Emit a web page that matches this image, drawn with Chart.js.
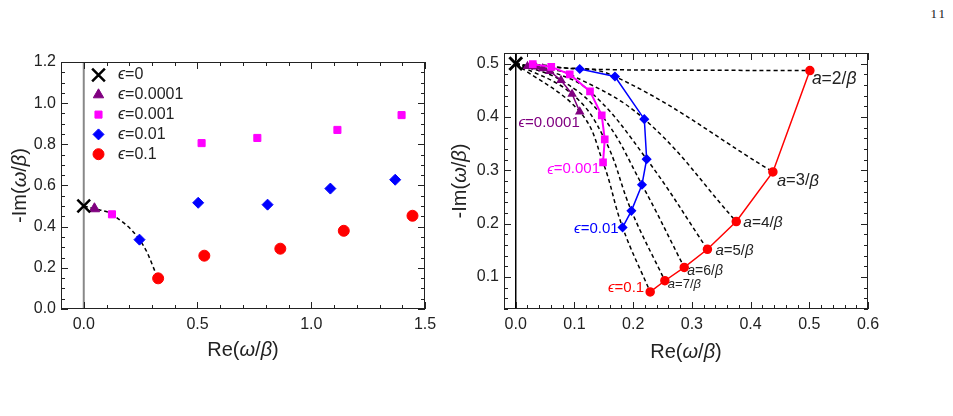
<!DOCTYPE html>
<html>
<head>
<meta charset="utf-8">
<script src="https://cdn.jsdelivr.net/npm/chart.js@4.4.0/dist/chart.umd.min.js"></script>
<style>
  body { margin: 0; background: #fff; width: 953px; height: 416px; overflow: hidden; position: relative; }
  #leftBox { position: absolute; left: 0; top: 0; width: 470px; height: 416px; }
  #rightBox { position: absolute; left: 440px; top: 0; width: 513px; height: 416px; }
  #page { position: absolute; right: 6px; top: 6px; font-family: "Liberation Serif", serif; font-size: 13px; letter-spacing: 2px; color: #222; }
</style>
</head>
<body>
<div id="page">11</div>
<div id="leftBox"><canvas id="leftChart" width="470" height="416"></canvas></div>
<div id="rightBox"><canvas id="rightChart" width="513" height="416"></canvas></div>
<script>
const FONT = '"Liberation Sans", "DejaVu Sans", Arial, sans-serif';

// Left panel: poles for a = 2/beta ... (eps sweep)
const leftCrossX = [0];
const leftCrossY = [0.5];
const leftTriX = [0.047];
const leftTriY = [0.487];
const leftSqX = [0.124, 0.518, 0.763, 1.115, 1.397];
const leftSqY = [0.46, 0.806, 0.831, 0.87, 0.942];
const leftDiaX = [0.245, 0.503, 0.808, 1.084, 1.369];
const leftDiaY = [0.337, 0.516, 0.507, 0.585, 0.628];
const leftCircX = [0.327, 0.530, 0.864, 1.143, 1.445];
const leftCircY = [0.149, 0.259, 0.293, 0.380, 0.453];
const leftXTicks = [0, 0.5, 1.0, 1.5];
const leftYTicks = [0, 0.2, 0.4, 0.6, 0.8, 1.0, 1.2];
const legendLabels = ['ϵ=0', 'ϵ=0.0001', 'ϵ=0.001', 'ϵ=0.01', 'ϵ=0.1'];

// Right panel: one point per a = 2/beta ... 8/beta for each eps
const purX = [0.020, 0.034, 0.046, 0.058, 0.077, 0.096, 0.109];
const purY = [0.495, 0.494, 0.491, 0.486, 0.469, 0.443, 0.410];
const magX = [0.029, 0.0605, 0.092, 0.1265, 0.1465, 0.1516, 0.1487];
const magY = [0.499, 0.494, 0.48, 0.448, 0.403, 0.358, 0.315];
const bluX = [0.109, 0.169, 0.219, 0.223, 0.215, 0.197, 0.182];
const bluY = [0.49, 0.476, 0.396, 0.321, 0.273, 0.224, 0.193];
const redX = [0.501, 0.438, 0.3756, 0.3265, 0.287, 0.254, 0.229];
const redY = [0.487, 0.297, 0.204, 0.152, 0.118, 0.093, 0.072];
const aLabels = ['a=2/β', 'a=3/β', 'a=4/β', 'a=5/β', 'a=6/β', 'a=7/β'];
const rightXTicks = [0, 0.1, 0.2, 0.3, 0.4, 0.5, 0.6];
const rightYTicks = [0.1, 0.2, 0.3, 0.4, 0.5];

const PURPLE = '#800080', MAGENTA = '#ff00ff', BLUE = '#0000ff', RED = '#ff0000';

function pts(xs, ys) {
    return xs.map((x, i) => ({ x: x, y: ys[i] }));
}

// draw text with some letters in italic (math symbols)
function drawRich(ctx, str, x, y, size, color, align) {
    const italic = 'ϵωβa';
    let parts = [];
    for (const ch of str) {
        const it = italic.includes(ch);
        if (parts.length && parts[parts.length - 1].it === it) parts[parts.length - 1].t += ch;
        else parts.push({ t: ch, it: it });
    }
    let w = 0;
    parts.forEach(p => {
        ctx.font = (p.it ? 'italic ' : '') + size + 'px ' + FONT;
        p.w = ctx.measureText(p.t).width;
        w += p.w;
    });
    let cx = align === 'center' ? x - w / 2 : (align === 'right' ? x - w : x);
    ctx.fillStyle = color;
    ctx.textBaseline = 'middle';
    ctx.textAlign = 'left';
    parts.forEach(p => {
        ctx.font = (p.it ? 'italic ' : '') + size + 'px ' + FONT;
        ctx.fillText(p.t, cx, y);
        cx += p.w;
    });
}

// frame with inward ticks on all sides, plus titles and text labels
const decor = {
    id: 'decor',
    afterDraw(chart, args, opts) {
        const ctx = chart.ctx;
        const a = chart.chartArea;
        const xs = chart.scales.x, ys = chart.scales.y;
        ctx.save();
        ctx.strokeStyle = '#222';
        ctx.lineWidth = 1;
        ctx.strokeRect(a.left + 0.5, a.top + 0.5, a.right - a.left - 1, a.bottom - a.top - 1);

        function ticksFor(scale, minor, major) {
            let out = [];
            const k0 = Math.ceil(scale.min / minor - 1e-6), k1 = Math.floor(scale.max / minor + 1e-6);
            for (let k = k0; k <= k1; k++) {
                const v = k * minor;
                const r = v / major;
                out.push({ v: v, big: Math.abs(r - Math.round(r)) < 1e-6 });
            }
            return out;
        }
        ctx.beginPath();
        ticksFor(xs, opts.xMinor, opts.xMajor).forEach(t => {
            const px = Math.round(xs.getPixelForValue(t.v)) + 0.5;
            const len = t.big ? 7 : 4;
            ctx.moveTo(px, a.bottom); ctx.lineTo(px, a.bottom - len);
            ctx.moveTo(px, a.top); ctx.lineTo(px, a.top + len);
        });
        ticksFor(ys, opts.yMinor, opts.yMajor).forEach(t => {
            const py = Math.round(ys.getPixelForValue(t.v)) + 0.5;
            const len = t.big ? 7 : 4;
            ctx.moveTo(a.left, py); ctx.lineTo(a.left + len, py);
            ctx.moveTo(a.right, py); ctx.lineTo(a.right - len, py);
        });
        ctx.stroke();

        // axis titles
        drawRich(ctx, 'Re(ω/β)', (a.left + a.right) / 2, opts.xTitleY, 20, '#222', 'center');
        ctx.save();
        ctx.translate(opts.yTitleX, (a.top + a.bottom) / 2);
        ctx.rotate(-Math.PI / 2);
        drawRich(ctx, '-Im(ω/β)', 0, 0, 20, '#222', 'center');
        ctx.restore();

        (opts.labels || []).forEach(l => {
            drawRich(ctx, l.text, xs.getPixelForValue(l.x) + l.dx, ys.getPixelForValue(l.y) + l.dy, l.size, l.color, l.align);
        });

        // legend
        if (opts.legend) {
            const lg = opts.legend;
            lg.items.forEach((it, i) => {
                const ds = chart.data.datasets[it.ds];
                const yy = lg.y + i * lg.dy;
                ctx.save();
                ctx.fillStyle = ds.pointBackgroundColor || ds.backgroundColor;
                ctx.strokeStyle = ds.pointBorderColor || ds.borderColor;
                ctx.lineWidth = ds.pointBorderWidth || 1;
                Chart.helpers.drawPoint(ctx, {
                    pointStyle: ds.pointStyle, radius: ds.pointRadius, rotation: 0,
                    borderWidth: ds.pointBorderWidth || 1
                }, lg.x, yy);
                ctx.restore();
                drawRich(ctx, legendLabels[i], lg.textX, yy, 16, '#222', 'left');
            });
        }
        ctx.restore();
    }
};

function axis(min, max, tickList, size, padding, fit, isX) {
    return {
        type: 'linear',
        min: min,
        max: max,
        afterBuildTicks: s => { s.ticks = tickList.map(v => ({ value: v })); },
        afterFit: s => { if (isX) s.height = fit; else s.width = fit; },
        ticks: {
            color: '#222',
            padding: padding,
            font: { family: FONT, size: size },
            callback: v => v.toFixed(1)
        },
        grid: { display: false, drawTicks: false },
        border: { display: false }
    };
}

const marker = (data, style, color, r, order) => ({
    data: data, showLine: false, pointStyle: style, pointRadius: r,
    pointBackgroundColor: color, pointBorderColor: color, pointBorderWidth: 1,
    backgroundColor: color, borderColor: color, order: order
});

// ---------- left chart ----------
const leftPath = pts([0].concat(leftTriX, [leftSqX[0]], [leftDiaX[0]], [leftCircX[0]]),
                     [0.5].concat(leftTriY, [leftSqY[0]], [leftDiaY[0]], [leftCircY[0]]));

new Chart(document.getElementById('leftChart'), {
    type: 'scatter',
    data: {
        datasets: [
            { data: pts(leftCrossX, leftCrossY), pointStyle: 'crossRot', pointRadius: 9,
              pointBorderWidth: 2.5, pointBorderColor: '#000', pointBackgroundColor: '#000',
              borderColor: '#000', backgroundColor: '#000', order: 0 },
            marker(pts(leftTriX, leftTriY), 'triangle', PURPLE, 6, 1),
            marker(pts(leftSqX, leftSqY), 'rect', MAGENTA, 5, 1),
            marker(pts(leftDiaX, leftDiaY), 'rectRot', BLUE, 5.5, 1),
            marker(pts(leftCircX, leftCircY), 'circle', RED, 5.5, 1),
            { data: leftPath, showLine: true, pointRadius: 0, borderColor: '#000', borderWidth: 1.5,
              borderDash: [4, 3], tension: 0.4, order: 5 },
            { data: [{ x: 0, y: 0 }, { x: 0, y: 1.2 }], showLine: true, pointRadius: 0,
              borderColor: '#888', borderWidth: 2, order: 10 }
        ]
    },
    options: {
        responsive: false,
        animation: false,
        layout: { padding: { top: 62, right: 45, bottom: 47, left: 0 } },
        scales: {
            x: axis(-0.1, 1.5, leftXTicks, 16, 6, 60, true),
            y: axis(0, 1.2, leftYTicks, 16, 5, 61, false)
        },
        plugins: {
            legend: { display: false },
            tooltip: { enabled: false },
            decor: {
                xMinor: 0.1, xMajor: 0.5, yMinor: 0.05, yMajor: 0.2,
                xTitleY: 350, yTitleX: 20,
                legend: { x: 98.5, textX: 118, y: 75, dy: 19.8,
                          items: [{ ds: 0 }, { ds: 1 }, { ds: 2 }, { ds: 3 }, { ds: 4 }] }
            }
        }
    },
    plugins: [decor]
});

// ---------- right chart ----------
const rightDatasets = [
    { data: [{ x: 0, y: 0.5 }], pointStyle: 'crossRot', pointRadius: 9, pointBorderWidth: 3,
      pointBorderColor: '#000', pointBackgroundColor: '#000', borderColor: '#000', order: 0 },
    { data: pts(redX, redY), showLine: true, borderColor: RED, borderWidth: 1.5, pointStyle: 'circle',
      pointRadius: 4, pointBackgroundColor: RED, pointBorderColor: RED, order: 1 },
    { data: pts(bluX, bluY), showLine: true, borderColor: BLUE, borderWidth: 1.5, pointStyle: 'rectRot',
      pointRadius: 4, pointBackgroundColor: BLUE, pointBorderColor: BLUE, order: 1 },
    { data: pts(magX, magY), showLine: true, borderColor: MAGENTA, borderWidth: 2, pointStyle: 'rect',
      pointRadius: 4, pointBackgroundColor: MAGENTA, pointBorderColor: MAGENTA, order: 1 },
    { data: pts(purX, purY), showLine: true, borderColor: PURPLE, borderWidth: 1.5, pointStyle: 'triangle',
      pointRadius: 4, pointBackgroundColor: PURPLE, pointBorderColor: PURPLE, order: 1 },
    { data: [{ x: 0, y: 0.04 }, { x: 0, y: 0.52 }], showLine: true, pointRadius: 0,
      borderColor: '#000', borderWidth: 1.5, order: 10 }
];
for (let i = 0; i < redX.length; i++) {
    rightDatasets.push({
        data: [{ x: 0, y: 0.5 }, { x: purX[i], y: purY[i] }, { x: magX[i], y: magY[i] },
               { x: bluX[i], y: bluY[i] }, { x: redX[i], y: redY[i] }],
        showLine: true, pointRadius: 0, borderColor: '#000', borderWidth: 1.5,
        borderDash: [4, 3], tension: 0.4, order: 5
    });
}

const aSizes = [17.5, 16.5, 15.5, 15, 14, 13];
const aOffsets = [[2, 9], [4, 9], [7, 1], [8, 2], [3, 4], [3, 4]];
const rightLabels = aLabels.map((t, i) => ({
    text: t, x: redX[i], y: redY[i], dx: aOffsets[i][0], dy: aOffsets[i][1],
    size: aSizes[i], color: '#222', align: 'left'
}));
rightLabels.push({ text: 'ϵ=0.0001', x: purX[6], y: purY[6], dx: 0, dy: 11, size: 15, color: PURPLE, align: 'right' });
rightLabels.push({ text: 'ϵ=0.001', x: magX[6], y: magY[6], dx: -3, dy: 7, size: 15, color: MAGENTA, align: 'right' });
rightLabels.push({ text: 'ϵ=0.01', x: bluX[6], y: bluY[6], dx: -4, dy: 1, size: 15, color: BLUE, align: 'right' });
rightLabels.push({ text: 'ϵ=0.1', x: redX[6], y: redY[6], dx: -6, dy: -4, size: 15, color: RED, align: 'right' });

new Chart(document.getElementById('rightChart'), {
    type: 'scatter',
    data: { datasets: rightDatasets },
    options: {
        responsive: false,
        animation: false,
        layout: { padding: { top: 53, right: 85, bottom: 47, left: 0 } },
        scales: {
            x: axis(-0.02, 0.6, rightXTicks, 16, 6, 60, true),
            y: axis(0.04, 0.52, rightYTicks, 16, 5, 64, false)
        },
        plugins: {
            legend: { display: false },
            tooltip: { enabled: false },
            decor: {
                xMinor: 0.02, xMajor: 0.1, yMinor: 0.02, yMajor: 0.1,
                xTitleY: 352, yTitleX: 20,
                labels: rightLabels
            }
        }
    },
    plugins: [decor]
});
</script>
</body>
</html>
